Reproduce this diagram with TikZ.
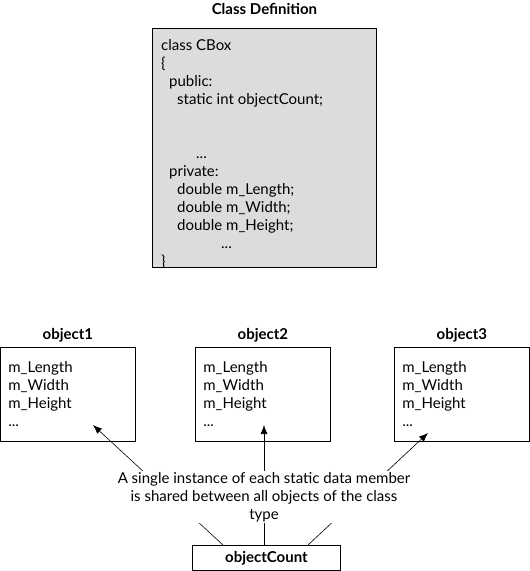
\documentclass[tikz,border=0pt]{standalone}
\usepackage{fontspec}
\setmainfont{Lato}
\usepackage{xcolor}
\usepackage{tikz}
\usetikzlibrary{arrows.meta, positioning}

\definecolor{classgray}{RGB}{220,220,220}

\begin{document}
\begin{tikzpicture}[x=1pt, y=-1pt, font=\fontsize{15}{18}\selectfont]
\tikzstyle{objbox} = [rectangle, draw, line width=0.8pt, text width=119pt, align=left, minimum width=135pt, minimum height=94pt, inner xsep=8pt]
\tikzstyle{title} = [font=\fontsize{15}{18}\selectfont\bfseries]
\tikzstyle{share} = [draw, line width=0.6pt, -{Latex[length=9pt, width=7pt]}]

\useasboundingbox (0,0) rectangle (530,571);

% class definition
\node (cdef) [rectangle, draw, line width=0.9pt, fill=classgray, anchor=north west, minimum width=224pt, minimum height=239pt] at (152,28) {};
\node (cdeftext) [anchor=north west, align=left, inner sep=0pt, xshift=9pt, yshift=-11pt] at (cdef.north west) {class CBox\\
\{\\
\hspace*{8pt}public:\\
\hspace*{16pt}static int objectCount;\\
\mbox{}\\
\mbox{}\\
\hspace*{35pt}...\\
\hspace*{8pt}private:\\
\hspace*{16pt}double m\_Length;\\
\hspace*{16pt}double m\_Width;\\
\hspace*{16pt}double m\_Height;\\
\hspace*{60pt}...\\
\}};
\node (cdeftitle) [title, above=10pt of cdef] {Class Definition};

% the three objects
\node (obj1) [objbox, anchor=north west] at (0,347) {m\_Length\\m\_Width\\m\_Height\\...};
\node (obj2) [objbox, anchor=north west] at (195,347) {m\_Length\\m\_Width\\m\_Height\\...};
\node (obj3) [objbox, anchor=north west] at (394,347) {m\_Length\\m\_Width\\m\_Height\\...};
\node (obj1title) [title, above=1pt of obj1] {object1};
\node (obj2title) [title, above=1pt of obj2] {object2};
\node (obj3title) [title, above=1pt of obj3] {object3};

% shared static member
\node (count) [rectangle, draw, line width=0.8pt, title, minimum width=148pt, minimum height=25pt, anchor=north west, inner sep=0pt] at (192,545) {objectCount};
\coordinate (tip1) at (93,425);
\coordinate (tip2) at (264,425);
\coordinate (tip3) at (428,433);
\draw [share] (count.north -| 223,0) -- (tip1);
\draw [share] (count.north -| tip2) -- (tip2);
\draw [share] (count.north -| 308,0) -- (tip3);

\node (note) [fill=white, align=center, inner xsep=4pt, inner ysep=1pt] at (264,497) {A single instance of each static data member\\is shared between all objects of the class\\type};

\end{tikzpicture}
\end{document}
